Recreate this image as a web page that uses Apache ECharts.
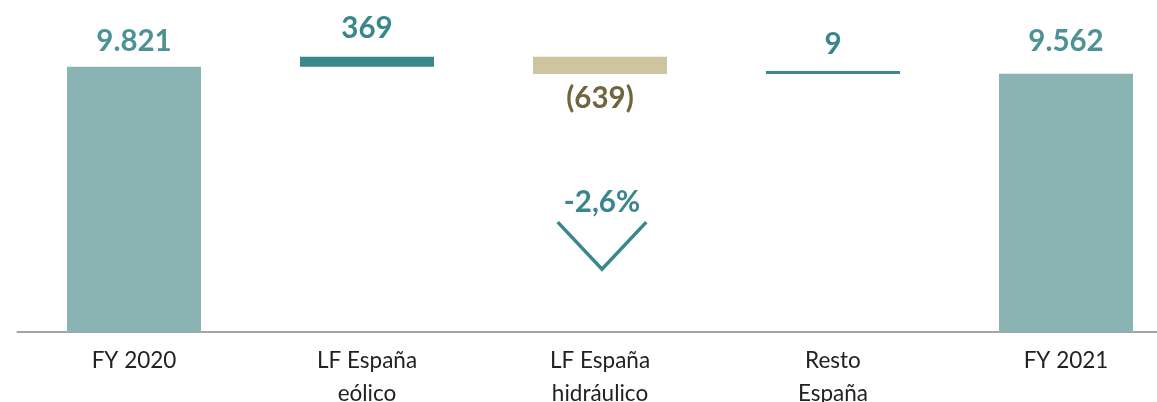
<!DOCTYPE html>
<html>
<head>
<meta charset="utf-8">
<script src="https://cdn.jsdelivr.net/npm/echarts@6/dist/echarts.min.js"></script>
<style>
html,body{margin:0;padding:0;background:#fff;overflow:hidden;}
#c{width:1157px;height:402px;}
</style>
</head>
<body>
<div id="c"></div>
<script>
const categories = ['FY 2020', 'LF España\neólico', 'LF España\nhidráulico', 'Resto\nEspaña', 'FY 2021'];
const values = [9821, 369, -639, 9, 9562];
const isTotal = [true, false, false, false, true];
const valueLabels = ['9.821', '369', '(639)', '9', '9.562'];
const changeLabel = '-2,6%';
const changeCategory = 2;
const changeArrowTop = 4070;
const changeArrowBottom = 2330;

const colTotal = '#8ab4b4';
const colUp = '#3b878e';
const colDown = '#cdc59f';
const txtTotal = '#4d9294';
const txtUp = '#3a868d';
const txtDown = '#6f6640';

const base = [], height = [];
let running = 0;
values.forEach((v, i) => {
  if (isTotal[i]) { base.push(0); height.push(v); running = v; }
  else if (v >= 0) { base.push(running); height.push(v); running += v; }
  else { running += v; base.push(running); height.push(-v); }
});

const labelDist = [10, 13, 9, 12, 17];
const visData = height.map((h, i) => {
  const neg = !isTotal[i] && values[i] < 0;
  const color = isTotal[i] ? colTotal : (neg ? colDown : colUp);
  const tcol = isTotal[i] ? txtTotal : (neg ? txtDown : txtUp);
  return {
    value: h,
    itemStyle: { color: color },
    label: {
      show: true,
      position: neg ? 'bottom' : 'top',
      distance: labelDist[i],
      formatter: valueLabels[i],
      color: tcol,
      fontFamily: 'Lato',
      fontWeight: 'bold',
      fontSize: 29.5
    }
  };
});

const chart = echarts.init(document.getElementById('c'), null, { renderer: 'canvas' });
chart.setOption({
  animation: false,
  backgroundColor: '#ffffff',
  grid: { left: 17.5, top: 35, width: 1165, height: 297, containLabel: false, outerBoundsMode: 'none' },
  xAxis: {
    type: 'category',
    data: categories,
    axisLine: { show: true, lineStyle: { color: '#a3a3a3', width: 2 } },
    axisTick: { show: false },
    axisLabel: {
      interval: 0,
      margin: 12,
      color: '#222222',
      fontFamily: 'Lato',
      fontSize: 22.5,
      lineHeight: 33
    },
    splitLine: { show: false }
  },
  yAxis: { type: 'value', min: 0, max: 11000, show: false, splitLine: { show: false } },
  series: [
    {
      type: 'bar', stack: 'wf', barWidth: 134, silent: true,
      itemStyle: { color: 'rgba(0,0,0,0)' },
      data: base
    },
    {
      type: 'bar', stack: 'wf', barWidth: 134, barMinHeight: 3,
      data: visData
    },
    {
      type: 'custom',
      silent: true,
      data: [[changeCategory, changeArrowTop, changeArrowBottom]],
      renderItem: function (params, api) {
        const idx = api.value(0);
        const top = api.coord([idx, api.value(1)]);
        const bot = api.coord([idx, api.value(2)]);
        const bw = api.size([1, 0])[0];
        const cx = top[0] + 2;
        const hw = bw * 0.19;
        return {
          type: 'group',
          children: [
            {
              type: 'polyline',
              shape: { points: [[cx - hw, top[1]], [cx, bot[1]], [cx + hw, top[1]]] },
              style: { stroke: colUp, lineWidth: 3.5, fill: null }
            },
            {
              type: 'text',
              style: {
                text: changeLabel,
                x: cx, y: top[1] - 20,
                align: 'center', verticalAlign: 'middle',
                fill: txtUp,
                font: 'bold 29.5px Lato'
              }
            }
          ]
        };
      }
    }
  ]
});
</script>
</body>
</html>
